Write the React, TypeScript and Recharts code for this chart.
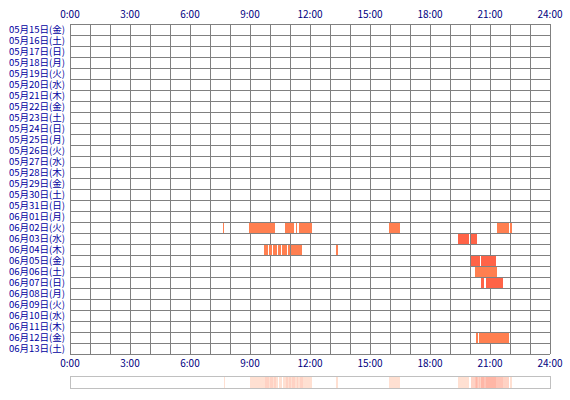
import { Bar, CartesianGrid, Cell, ComposedChart, BarChart, Line, XAxis, YAxis } from "recharts";

type Seg = [number, number];

const days = [
  "05月15日(金)", "05月16日(土)", "05月17日(日)", "05月18日(月)", "05月19日(火)",
  "05月20日(水)", "05月21日(木)", "05月22日(金)", "05月23日(土)", "05月24日(日)",
  "05月25日(月)", "05月26日(火)", "05月27日(水)", "05月28日(木)", "05月29日(金)",
  "05月30日(土)", "05月31日(日)", "06月01日(月)", "06月02日(火)", "06月03日(水)",
  "06月04日(木)", "06月05日(金)", "06月06日(土)", "06月07日(日)", "06月08日(月)",
  "06月09日(火)", "06月10日(水)", "06月11日(木)", "06月12日(金)", "06月13日(土)",
];

const hourTicks = [0, 1, 2, 3, 4, 5, 6, 7, 8, 9, 10, 11, 12, 13, 14, 15, 16, 17, 18, 19, 20, 21, 22, 23, 24];

// active periods, in hours of the day
const jun02: Seg[] = [[7.65, 7.7], [8.97, 10.25], [10.75, 11.2], [11.28, 11.37], [11.47, 12.1], [15.95, 16.5], [21.35, 21.95], [22.0, 22.12]];
const jun03: Seg[] = [[19.4, 19.95], [20.05, 20.33]];
const jun04: Seg[] = [[9.7, 9.9], [9.95, 10.12], [10.17, 10.35], [10.4, 10.55], [10.6, 10.85], [10.9, 11.02], [11.07, 11.62], [13.3, 13.38]];
const jun05: Seg[] = [[20.03, 20.5], [20.55, 21.3]];
const jun06: Seg[] = [[20.25, 21.35]];
const jun07: Seg[] = [[20.55, 20.68], [20.78, 21.65]];
const jun12: Seg[] = [[20.3, 20.38], [20.45, 21.95]];

const CORAL = "#ff7f50";
const TOMATO = "#ff6347";

const sessions: Record<string, Seg[]> = {
  "06月02日(火)": jun02,
  "06月03日(水)": jun03,
  "06月04日(木)": jun04,
  "06月05日(金)": jun05,
  "06月06日(土)": jun06,
  "06月07日(日)": jun07,
  "06月12日(金)": jun12,
};
const dayColors: Record<string, string> = {
  "06月03日(水)": TOMATO,
  "06月05日(金)": TOMATO,
  "06月07日(日)": TOMATO,
};

const SLOTS = 8;

const rows = days.map((day) => {
  const row: Record<string, string | number> = { day };
  const segs = sessions[day] ?? [];
  let prev = 0;
  for (let i = 0; i < SLOTS; i++) {
    const s = segs[i];
    if (s) {
      row[`g${i}`] = s[0] - prev;
      row[`d${i}`] = s[1] - s[0];
      prev = s[1];
    } else {
      row[`g${i}`] = 0;
      row[`d${i}`] = 0;
    }
  }
  return row;
});

// summary strip: how many days were active in each 3-minute slot
const BIN = 0.05;
const heatColors = ["transparent", "#ffe0d2", "#ffd2c4", "#ffc4b6", "#ffb6a6"];
const heat = Array.from({ length: 480 }, (_, i) => {
  const t = (i + 0.5) * BIN;
  let n = 0;
  Object.values(sessions).forEach((segs) => {
    if (segs.some(([a, b]) => t >= a && t < b)) n++;
  });
  return { bin: i, v: 1, n };
});

const fmt = (h: number) => (h % 3 === 0 ? `${h}:00` : "");

export default function App() {
  const font = { fontSize: 10, fontFamily: "'Noto Sans CJK JP', sans-serif" };
  const timeAxis = {
    type: "number" as const,
    domain: [0, 24],
    ticks: hourTicks,
    interval: 0,
    tickFormatter: fmt,
    axisLine: false,
    tickLine: false,
    tickSize: 0,
    tickMargin: 6,
    tick: { ...font, fill: "#000080" },
  };
  return (
    <div style={{ position: "absolute", left: 0, top: 0, width: 570, height: 400, background: "#fff" }}>
      <style>{`.recharts-cartesian-grid line, .recharts-bar-rectangle path { shape-rendering: crispEdges; }`}</style>
      <ComposedChart
        width={570}
        height={380}
        data={rows}
        layout="vertical"
        barSize={10}
        margin={{ top: 0, right: 20, bottom: 6, left: 0 }}
      >
        <CartesianGrid
          stroke="#808080"
          horizontalCoordinatesGenerator={({ offset }: any) =>
            Array.from({ length: days.length + 1 }, (_, i) => offset.top + (i * offset.height) / days.length)
          }
        />
        <XAxis {...timeAxis} height={20} />
        <XAxis {...timeAxis} xAxisId="top" orientation="top" height={24} />
        <YAxis
          type="category"
          dataKey="day"
          width={70}
          interval={0}
          axisLine={false}
          tickLine={false}
          tickSize={0}
          tickMargin={5}
          tick={{ fontSize: 9.5, fontFamily: font.fontFamily, fill: "#0000a0" }}
        />
        {Array.from({ length: SLOTS }).flatMap((_, i) => [
          <Bar key={`g${i}`} dataKey={`g${i}`} stackId="t" fill="transparent" isAnimationActive={false} />,
          <Bar key={`d${i}`} dataKey={`d${i}`} stackId="t" fill={CORAL} isAnimationActive={false}>
            {rows.map((r) => (
              <Cell key={r.day as string} fill={dayColors[r.day as string] ?? CORAL} />
            ))}
          </Bar>,
        ])}
        <Line xAxisId="top" dataKey="g7" stroke="none" dot={false} activeDot={false} isAnimationActive={false} />
      </ComposedChart>
      <div
        style={{
          position: "absolute",
          left: 70,
          top: 376,
          width: 479,
          height: 11,
          border: "1px solid #c0c0c0",
          overflow: "hidden",
        }}
      >
        <BarChart width={479} height={11} data={heat} barCategoryGap={0} margin={{ top: 0, right: 0, bottom: 0, left: 0 }}>
          <XAxis dataKey="bin" hide />
          <YAxis domain={[0, 1]} hide />
          <Bar dataKey="v" isAnimationActive={false}>
            {heat.map((h) => (
              <Cell key={h.bin} fill={heatColors[Math.min(h.n, 4)]} />
            ))}
          </Bar>
        </BarChart>
      </div>
    </div>
  );
}
